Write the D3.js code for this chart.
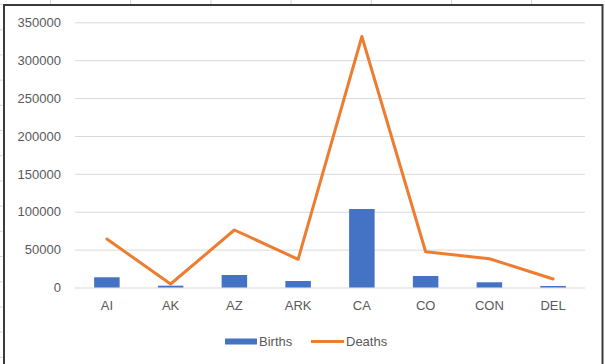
<!DOCTYPE html>
<html>
<head>
<meta charset="utf-8">
<script src="https://cdn.jsdelivr.net/npm/d3@7"></script>
<style>
  html, body { margin: 0; padding: 0; background: #fff; }
  svg { display: block; }
  text { font-family: "Liberation Sans", Arial, sans-serif; fill: #595959; }
</style>
</head>
<body>
<svg id="chart" width="605" height="364"></svg>
<script>
// State vital statistics: births (columns) and deaths (line)
const states = ["AI", "AK", "AZ", "ARK", "CA", "CO", "CON", "DEL"];
const births = [13500, 2400, 16500, 8600, 103600, 15200, 6900, 2000];
const deaths = [64000, 4600, 75900, 37200, 331300, 47200, 38000, 11200];
const yTicks = [0, 50000, 100000, 150000, 200000, 250000, 300000, 350000];
const seriesNames = ["Births", "Deaths"];

const svg = d3.select("#chart");
const W = 605, H = 364;

// faint worksheet cell lines peeking outside the chart frame
const sheet = svg.append("g").attr("stroke", "#d4d4d4").attr("stroke-width", 1);
d3.range(4, H, 25.2).forEach(y => {
  sheet.append("line").attr("x1", 0).attr("x2", 2.5).attr("y1", y + 0.5).attr("y2", y + 0.5);
});
d3.range(50, W, 80.2).forEach(x => {
  sheet.append("line").attr("x1", x + 0.5).attr("x2", x + 0.5).attr("y1", 0).attr("y2", 4);
});

// chart frame
svg.append("rect")
  .attr("x", 4).attr("y", 5).attr("width", 598.5).attr("height", 370)
  .attr("fill", "#fff").attr("stroke", "#3a3a3a").attr("stroke-width", 2);

const plot = { left: 75, right: 585, top: 22.3, bottom: 287.5 };

const x = d3.scaleBand().domain(states).range([plot.left, plot.right]).paddingInner(0).paddingOuter(0);
const y = d3.scaleLinear().domain([0, 350000]).range([plot.bottom, plot.top]);

// horizontal gridlines + value labels
const yAxis = d3.axisLeft(y).tickValues(yTicks).tickSize(-(plot.right - plot.left)).tickPadding(14).tickFormat(d3.format("d"));
const gy = svg.append("g").attr("transform", `translate(${plot.left},0)`).call(yAxis);
gy.select(".domain").remove();
gy.selectAll(".tick line").attr("stroke", "#d9d9d9").attr("stroke-width", 1);
gy.selectAll(".tick text").attr("font-size", 13).attr("fill", "#595959")
  .style("font-family", "'Liberation Sans', Arial, sans-serif");

// category labels
const xAxis = d3.axisBottom(x).tickSize(0).tickPadding(13);
const gx = svg.append("g").attr("transform", `translate(0,${plot.bottom})`).call(xAxis);
gx.select(".domain").remove();
gx.selectAll(".tick text").attr("font-size", 13).attr("fill", "#595959")
  .style("font-family", "'Liberation Sans', Arial, sans-serif");

// births columns
const barW = x.bandwidth() * 0.4;
svg.append("g").selectAll("rect").data(states).join("rect")
  .attr("x", d => x(d) + (x.bandwidth() - barW) / 2)
  .attr("y", (d, i) => y(births[i]))
  .attr("width", barW)
  .attr("height", (d, i) => y(0) - y(births[i]))
  .attr("fill", "#4472C4");

// deaths line
const line = d3.line()
  .x((d, i) => x(states[i]) + x.bandwidth() / 2)
  .y(d => y(d));
svg.append("path").datum(deaths)
  .attr("d", line)
  .attr("fill", "none")
  .attr("stroke", "#ED7D31")
  .attr("stroke-width", 3)
  .attr("stroke-linejoin", "round")
  .attr("stroke-linecap", "round");

// legend
const lg = svg.append("g").attr("transform", "translate(0,341)");
lg.append("rect").attr("x", 225).attr("y", -2.5).attr("width", 32).attr("height", 6).attr("fill", "#4472C4");
lg.append("text").attr("x", 259).attr("y", 4.5).attr("font-size", 13).text(seriesNames[0]);
lg.append("line").attr("x1", 311).attr("x2", 344).attr("y1", 0.5).attr("y2", 0.5)
  .attr("stroke", "#ED7D31").attr("stroke-width", 3);
lg.append("text").attr("x", 346).attr("y", 4.5).attr("font-size", 13).text(seriesNames[1]);
</script>
</body>
</html>
